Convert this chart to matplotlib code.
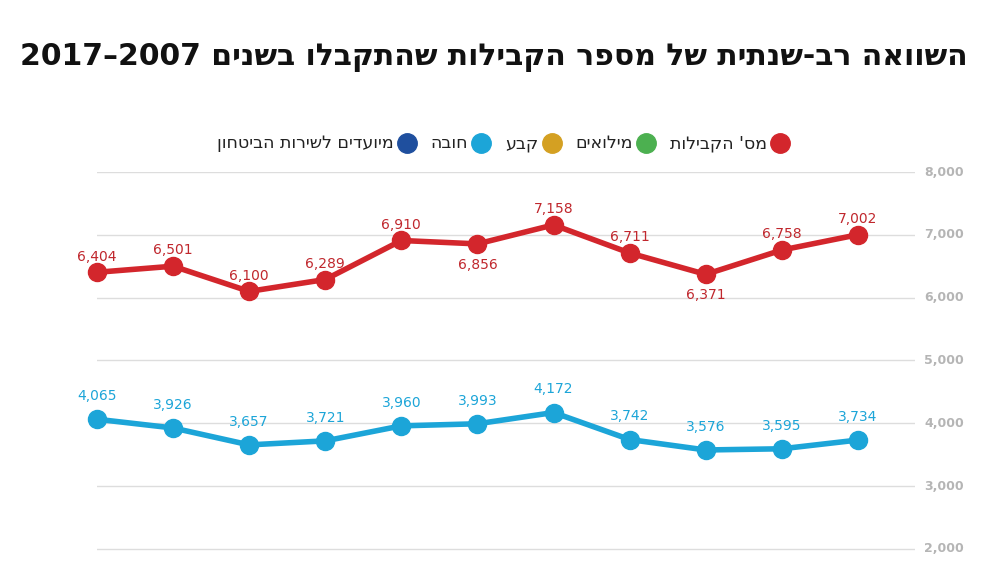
import matplotlib.pyplot as plt

plt.rcParams['font.family'] = ['DejaVu Sans']

years = list(range(2007, 2018))
complaints = [6404, 6501, 6100, 6289, 6910, 6856, 7158, 6711, 6371, 6758, 7002]
mandatory = [4065, 3926, 3657, 3721, 3960, 3993, 4172, 3742, 3576, 3595, 3734]
red_below = [False, False, False, False, False, True, False, False, True, False, False]
yticks = [2000, 3000, 4000, 5000, 6000, 7000, 8000]

RED = '#d3262c'
RED_TXT = '#c0272d'
TEAL = '#1ca5d8'
legend_items = [
    ("מס' הקבילות", RED),
    ("מילואים", '#4cb050'),
    ("קבע", '#d4a022'),
    ("חובה", TEAL),
    ("מיועדים לשירות הביטחון", '#1f4f9e'),
]


def vis(s):
    # matplotlib has no bidi, so reverse Hebrew for display
    return s[::-1]


fig = plt.figure(figsize=(10, 5.61), dpi=100)
ax = fig.add_axes([0.097, 0.0, 0.818, 1 - 172 / 561])
x = list(range(len(years)))
ax.set_xlim(0, 10.75)
ax.set_ylim(1809, 8000)

for t in yticks:
    ax.axhline(t, color='#dddddd', lw=1, zorder=0)
    ax.text(1.06, t, f'{t:,}', transform=ax.get_yaxis_transform(), ha='right',
            va='center', fontsize=9, color='#b5b5b5', fontweight='bold', clip_on=False)

ax.plot(x, complaints, color=RED, lw=4, marker='o', ms=13, clip_on=False, zorder=3)
ax.plot(x, mandatory, color=TEAL, lw=4, marker='o', ms=13, clip_on=False, zorder=3)

for i, v in enumerate(complaints):
    dy = -330 if red_below[i] else 250
    ax.text(x[i], v + dy, f'{v:,}', ha='center', va='center', fontsize=10, color=RED_TXT)
for i, v in enumerate(mandatory):
    ax.text(x[i], v + 370, f'{v:,}', ha='center', va='center', fontsize=10, color=TEAL)

ax.axis('off')

title = '2017–2007 ' + vis('השוואה רב-שנתית של מספר הקבילות שהתקבלו בשנים')
fig.text(0.968, 1 - 58 / 561, title, ha='right', va='center', fontsize=21.5,
         fontweight='bold', color='#111111')

# legend, laid out right-to-left
xr = 0.78
ly = 1 - 143 / 561
for label, col in legend_items:
    fig.add_artist(plt.Line2D([xr], [ly], marker='o', ms=14, color=col,
                              transform=fig.transFigure))
    t = fig.text(xr - 0.013, ly, vis(label), ha='right', va='center', fontsize=12.5,
                 color='#222222')
    fig.canvas.draw()
    bb = t.get_window_extent()
    xr = bb.x0 / 1000 - 0.024

fig.savefig('out.png', dpi=100, facecolor='white')
